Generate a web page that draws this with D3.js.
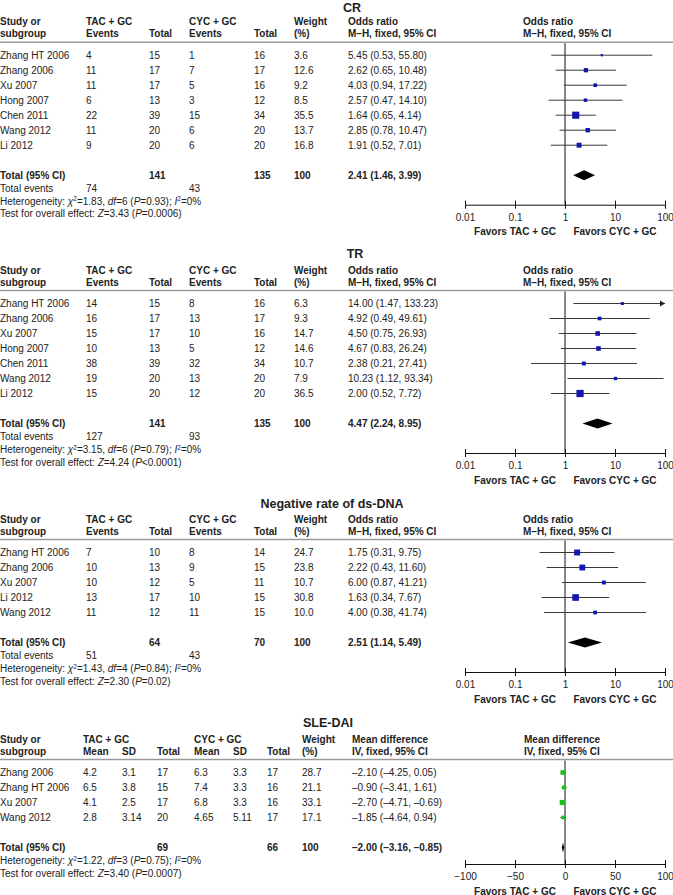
<!DOCTYPE html>
<html><head><meta charset="utf-8">
<script src="https://cdn.jsdelivr.net/npm/d3@7"></script>
<style>body{margin:0;background:#fff}svg{display:block;font-family:"Liberation Sans",Arial,sans-serif}</style>
</head><body><svg id="c" width="673" height="895"></svg>
<script>
// ---------- CR ----------
const crStudy = ["Zhang HT 2006","Zhang 2006","Xu 2007","Hong 2007","Chen 2011","Wang 2012","Li 2012"];
const crTacEvents = [4,11,11,6,22,11,9];
const crTacTotal = [15,17,17,13,39,20,20];
const crCycEvents = [1,7,5,3,15,6,6];
const crCycTotal = [16,17,16,12,34,20,20];
const crWeight = [3.6,12.6,9.2,8.5,35.5,13.7,16.8];
const crOR = [5.45,2.62,4.03,2.57,1.64,2.85,1.91];
const crLo = [0.53,0.65,0.94,0.47,0.65,0.78,0.52];
const crHi = [55.80,10.48,17.22,14.10,4.14,10.47,7.01];
const crTotals = [141,135,100];
const crTotalEvents = [74,43];
const crPooled = [2.41,1.46,3.99];
const crHet = ["1.83","6","=0.93","0"];
const crZ = ["3.43","=0.0006"];
// ---------- TR ----------
const trStudy = ["Zhang HT 2006","Zhang 2006","Xu 2007","Hong 2007","Chen 2011","Wang 2012","Li 2012"];
const trTacEvents = [14,16,15,10,38,19,15];
const trTacTotal = [15,17,17,13,39,20,20];
const trCycEvents = [8,13,10,5,32,13,12];
const trCycTotal = [16,17,16,12,34,20,20];
const trWeight = [6.3,9.3,14.7,14.6,10.7,7.9,36.5];
const trOR = [14.00,4.92,4.50,4.67,2.38,10.23,2.00];
const trLo = [1.47,0.49,0.75,0.83,0.21,1.12,0.52];
const trHi = [133.23,49.61,26.93,26.24,27.41,93.34,7.72];
const trTotals = [141,135,100];
const trTotalEvents = [127,93];
const trPooled = [4.47,2.24,8.95];
const trHet = ["3.15","6","=0.79","0"];
const trZ = ["4.24","<0.0001"];
// ---------- Negative rate of ds-DNA ----------
const nrStudy = ["Zhang HT 2006","Zhang 2006","Xu 2007","Li 2012","Wang 2012"];
const nrTacEvents = [7,10,10,13,11];
const nrTacTotal = [10,13,12,17,12];
const nrCycEvents = [8,9,5,10,11];
const nrCycTotal = [14,15,11,15,15];
const nrWeight = [24.7,23.8,10.7,30.8,10.0];
const nrOR = [1.75,2.22,6.00,1.63,4.00];
const nrLo = [0.31,0.43,0.87,0.34,0.38];
const nrHi = [9.75,11.60,41.21,7.67,41.74];
const nrTotals = [64,70,100];
const nrTotalEvents = [51,43];
const nrPooled = [2.51,1.14,5.49];
const nrHet = ["1.43","4","=0.84","0"];
const nrZ = ["2.30","=0.02"];
// ---------- SLE-DAI ----------
const slStudy = ["Zhang 2006","Zhang HT 2006","Xu 2007","Wang 2012"];
const slTacMean = [4.2,6.5,4.1,2.8];
const slTacSD = [3.1,3.8,2.5,3.14];
const slTacTotal = [17,15,17,20];
const slCycMean = [6.3,7.4,6.8,4.65];
const slCycSD = [3.3,3.3,3.3,5.11];
const slCycTotal = [17,16,16,17];
const slWeight = [28.7,21.1,33.1,17.1];
const slMD = [-2.10,-0.90,-2.70,-1.85];
const slLo = [-4.25,-3.41,-4.71,-4.64];
const slHi = [0.05,1.61,-0.69,0.94];
const slTotals = [69,66,100];
const slPooled = [-2.00,-3.16,-0.85];
const slHet = ["1.22","3","=0.75","0"];
const slZ = ["3.40","=0.0007"];

const orTicks = [0.01,0.1,1,10,100];
const mdTicks = [-100,-50,0,50,100];

const svg = d3.select("#c");
const FS = 10, TXT = "#222";

function seg(t, parts){
  parts.forEach(p=>{
    const ts = t.append("tspan").text(p[0]);
    if (p[1]==="i") ts.attr("font-style","italic");
    if (p[1]==="sup") ts.attr("font-size",6.5).attr("dy",-3.5);
    if (p[1]==="after") ts.attr("dy",3.5);
  });
}
function txt(g,x,y,s,opts={}){
  return g.append("text").attr("x",x).attr("y",y).attr("dy","0.35em")
    .attr("font-size",opts.size||FS).attr("font-weight",opts.bold?"bold":null)
    .attr("text-anchor",opts.anchor||"start").attr("fill",TXT).text(s);
}
const dash = v => v.toFixed(2).replace("-","\u2013");

function drawPanel(p){
  const g = svg.append("g");
  const top = p.top;
  // title
  txt(g,p.titleX,p.titleY,p.title,{bold:true,size:12.5,anchor:"middle"});
  // headers
  const c = p.cols;
  txt(g,0,top,"Study or",{bold:true});
  txt(g,0,top+12,"subgroup",{bold:true});
  p.headers.forEach(h=>txt(g,h[0],top+h[1]*12,h[2],{bold:true}));
  const lineY = top+20.5;
  g.append("line").attr("x1",0).attr("x2",673).attr("y1",lineY).attr("y2",lineY)
    .attr("stroke","#9a9a9a").attr("stroke-width",1.6);
  const y0 = top+33.5, step=15;
  const n = p.study.length;
  const yRow = i => y0 + i*step;
  const yTot = yRow(n-1)+30;
  // rows
  for(let i=0;i<n;i++){
    txt(g,0,yRow(i),p.study[i]);
    p.values.forEach((arr,k)=>txt(g,c[k],yRow(i),String(arr[i])));
    txt(g,p.wX,yRow(i),p.weight[i].toFixed(1));
    txt(g,p.estX,yRow(i),`${dash(p.est[i])} (${dash(p.lo[i])}, ${dash(p.hi[i])})`);
  }
  // totals
  txt(g,0,yTot,"Total (95% CI)",{bold:true});
  p.totalsX.forEach((x,k)=>txt(g,x,yTot,String(p.totals[k]),{bold:true}));
  txt(g,p.estX,yTot,`${dash(p.pooled[0])} (${dash(p.pooled[1])}, ${dash(p.pooled[2])})`,{bold:true});
  let yy = yTot+13;
  if (p.totalEvents){
    txt(g,0,yy,"Total events");
    txt(g,p.evX[0],yy,String(p.totalEvents[0]));
    txt(g,p.evX[1],yy,String(p.totalEvents[1]));
    yy += 13;
  }
  const h = txt(g,0,yy,"Heterogeneity: ");
  seg(h,[["\u03c7","i"],["2","sup"],["="+p.het[0]+", ","after"],["df","i"],["="+p.het[1]+" ("],["P","i"],[p.het[2]+"); "],["I","i"],["2","sup"],["="+p.het[3]+"%","after"]]);
  yy += 12.5;
  const t = txt(g,0,yy,"Test for overall effect: ");
  seg(t,[["Z","i"],["="+p.z[0]+" ("],["P","i"],[p.z[1]+")"]]);
  // forest plot
  const x = p.scale;
  const axisY = yy-9;
  g.append("line").attr("x1",x(p.ref)).attr("x2",x(p.ref)).attr("y1",lineY+1).attr("y2",axisY)
    .attr("stroke","#111").attr("stroke-width",1);
  const [dmin,dmax] = x.domain();
  for(let i=0;i<n;i++){
    const lo = Math.max(p.lo[i],dmin), hi = Math.min(p.hi[i],dmax);
    g.append("line").attr("x1",x(lo)).attr("x2",x(hi)).attr("y1",yRow(i)).attr("y2",yRow(i))
      .attr("stroke","#3a3a3a").attr("stroke-width",1);
    if (p.hi[i]>dmax){
      const xe = x(dmax);
      g.append("path").attr("d",`M${xe},${yRow(i)} l-5,-3 l0,6 z`).attr("fill","#222");
    }
    const s = p.sq*Math.sqrt(p.weight[i]);
    g.append("rect").attr("x",x(p.est[i])-s/2).attr("y",yRow(i)-s/2).attr("width",s).attr("height",s)
      .attr("fill",p.color);
  }
  const pd = p.pooled;
  g.append("path").attr("d",`M${x(pd[1])},${yTot} L${x(pd[0])},${yTot-5} L${x(pd[2])},${yTot} L${x(pd[0])},${yTot+5} Z`)
    .attr("fill","#000");
  const ax = g.append("g").attr("transform",`translate(0,${axisY})`)
    .call(d3.axisBottom(x).tickValues(p.ticks).tickFormat(p.fmt).tickSizeOuter(0).tickSizeInner(4).tickPadding(5));
  ax.select(".domain").attr("stroke","#111");
  ax.selectAll(".tick line").attr("y1",-4).attr("y2",4).attr("stroke","#111");
  ax.selectAll(".tick text").attr("font-size",FS).attr("fill",TXT).attr("font-family","Liberation Sans, Arial, sans-serif");
  txt(g,x(p.ticks[1]),axisY+27,"Favors TAC + GC",{bold:true,anchor:"middle"});
  txt(g,x(p.ticks[3]),axisY+27,"Favors CYC + GC",{bold:true,anchor:"middle"});
}

const logX = d3.scaleLog().domain([0.01,100]).range([465,665]);
const linX = d3.scaleLinear().domain([-100,100]).range([465,665]);
const orFmt = d => String(d);
const orCols = [86,149,189,254];
const orHeaders = [[86,0,"TAC + GC"],[86,1,"Events"],[149,1,"Total"],[189,0,"CYC + GC"],[189,1,"Events"],[254,1,"Total"],[294,0,"Weight"],[294,1,"(%)"],
  [348,0,"Odds ratio"],[348,1,"M\u2013H, fixed, 95% CI"],[523,0,"Odds ratio"],[523,1,"M\u2013H, fixed, 95% CI"]];

function orPanel(title,titleX,titleY,top,study,te,tt,ce,ct,w,est,lo,hi,totals,tev,pooled,het,z){
  drawPanel({title,titleX,titleY,top,study,cols:orCols,headers:orHeaders,values:[te,tt,ce,ct],
    weight:w,wX:294,estX:348,est,lo,hi,totals,totalsX:[149,254,294],totalEvents:tev,evX:[86,189],
    pooled,het,z,scale:logX,ref:1,ticks:orTicks,fmt:orFmt,sq:1.2,color:"#1515b0"});
}
orPanel("CR",352,8,21.7,crStudy,crTacEvents,crTacTotal,crCycEvents,crCycTotal,crWeight,crOR,crLo,crHi,crTotals,crTotalEvents,crPooled,crHet,crZ);
orPanel("TR",355,254,270,trStudy,trTacEvents,trTacTotal,trCycEvents,trCycTotal,trWeight,trOR,trLo,trHi,trTotals,trTotalEvents,trPooled,trHet,trZ);
orPanel("Negative rate of ds-DNA",332,504,519,nrStudy,nrTacEvents,nrTacTotal,nrCycEvents,nrCycTotal,nrWeight,nrOR,nrLo,nrHi,nrTotals,nrTotalEvents,nrPooled,nrHet,nrZ);

drawPanel({title:"SLE-DAI",titleX:328,titleY:723,top:739,study:slStudy,cols:[83,122,157,194,233,267],
  headers:[[83,0,"TAC + GC"],[83,1,"Mean"],[122,1,"SD"],[157,1,"Total"],[194,0,"CYC + GC"],[194,1,"Mean"],[233,1,"SD"],[267,1,"Total"],
    [302,0,"Weight"],[302,1,"(%)"],[352,0,"Mean difference"],[352,1,"IV, fixed, 95% CI"],[524,0,"Mean difference"],[524,1,"IV, fixed, 95% CI"]],
  values:[slTacMean,slTacSD,slTacTotal,slCycMean,slCycSD,slCycTotal],weight:slWeight,wX:302,estX:352,
  est:slMD,lo:slLo,hi:slHi,totals:slTotals,totalsX:[157,267,302],totalEvents:null,pooled:slPooled,het:slHet,z:slZ,
  scale:linX,ref:0,ticks:mdTicks,fmt:d3.format(""),sq:0.9,color:"#1fbf1f"});
</script></body></html>
